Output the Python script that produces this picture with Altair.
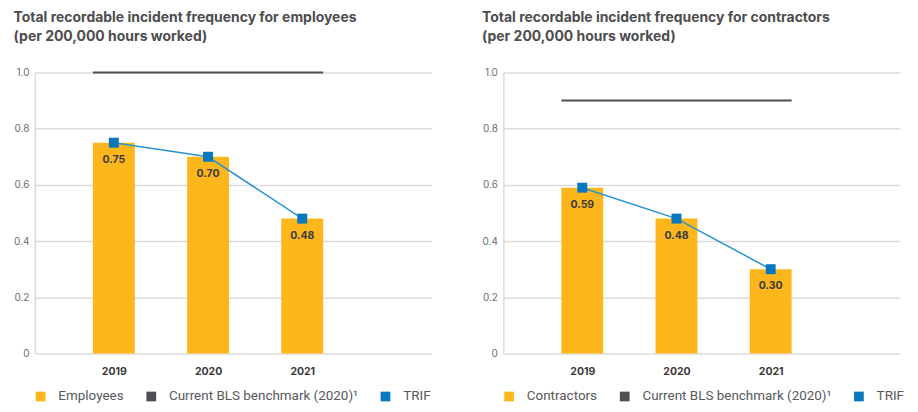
import altair as alt
import pandas as pd

years = [2019, 2020, 2021]
employees = [0.75, 0.70, 0.48]
contractors = [0.59, 0.48, 0.30]
bench_employees = 1.0
bench_contractors = 0.9
bench_label = "Current BLS benchmark (2020)¹"
trif_label = "TRIF"
y_ticks = [0, 0.2, 0.4, 0.6, 0.8, 1.0]
titles = [
    ["Total recordable incident frequency for employees", "(per 200,000 hours worked)"],
    ["Total recordable incident frequency for contractors", "(per 200,000 hours worked)"],
]

ORANGE = "#FDB71C"
GRAY = "#4D4F53"
BLUE_LINE = "#2B93CF"
BLUE_MARK = "#0A78BE"
GRID = "#DCDCDC"
FONT = "Inter"
LEGEND_FONT = "Roboto"


def panel(title, label, values, bench):
    df = pd.DataFrame({"year": years, "value": values, "series": [label] * len(years)})
    bdf = pd.DataFrame({"start": [years[0]], "end": [years[-1]], "value": [bench]})
    xscale = alt.Scale(domain=[2018.215, 2022.32], nice=False, zero=False)
    x = alt.X("year:Q", scale=xscale,
              axis=alt.Axis(values=years, format="d", title=None, grid=False, domain=False,
                            ticks=False, labelFontWeight="bold", labelFontSize=10.5,
                            labelColor="#3A3A3A", labelPadding=13, labelFont=FONT))
    y = alt.Y("value:Q", scale=alt.Scale(domain=[0, 1], nice=False),
              axis=alt.Axis(values=y_ticks, title=None, grid=True, gridColor=GRID,
                            gridWidth=1.5, domain=True, domainColor=GRID, domainWidth=1.5,
                            ticks=False, labelFontSize=10, labelColor="#6D6E71",
                            labelPadding=6, labelFont=FONT,
                            labelExpr="datum.value == 0 ? '0' : format(datum.value, '.1f')"))
    base = alt.Chart(df)
    bars = base.mark_bar(size=42).encode(
        x=x, y=y,
        color=alt.Color("series:N",
                        scale=alt.Scale(domain=[label, bench_label, trif_label],
                                        range=[ORANGE, GRAY, BLUE_MARK]),
                        legend=alt.Legend(title=None, orient="none", direction="horizontal",
                                          legendX=-1, legendY=318, symbolType="square",
                                          symbolSize=95, symbolStrokeWidth=0,
                                          labelFontSize=13.5, labelColor="#58595B",
                                          labelFont=LEGEND_FONT, columnPadding=20, labelLimit=0,
                                          symbolOffset=0, labelOffset=11)),
    )
    rule = alt.Chart(bdf).mark_rule(color=GRAY, strokeWidth=2, xOffset=-21, x2Offset=21).encode(
        x=alt.X("start:Q", scale=xscale), x2="end:Q", y=alt.Y("value:Q"))
    line = base.mark_line(color=BLUE_LINE, strokeWidth=1.5).encode(x=x, y=y)
    pts = base.mark_square(size=100, color=BLUE_MARK, opacity=1).encode(x=x, y=y)
    txt = base.mark_text(dy=17, fontWeight="bold", fontSize=10.5, color="#3B3B3B", font=FONT).encode(
        x=x, y=y, text=alt.Text("value:Q", format=".2f"))
    return alt.layer(bars, rule, line, pts, txt).properties(
        width=398, height=282,
        title=alt.TitleParams(title, anchor="start", frame="bounds", fontSize=14,
                              fontWeight="bold", color="#4D4D4F", font=FONT,
                              lineHeight=19, offset=24),
    )


chart = alt.hconcat(
    panel(titles[0], "Employees", employees, bench_employees),
    panel(titles[1], "Contractors", contractors, bench_contractors),
    spacing=50,
).resolve_scale(color="independent").configure_view(stroke=None).properties(
    padding={"left": 5, "top": 2, "right": 5, "bottom": 5}
)

chart.save("out.html", embed_options={"renderer": "svg", "actions": False})
